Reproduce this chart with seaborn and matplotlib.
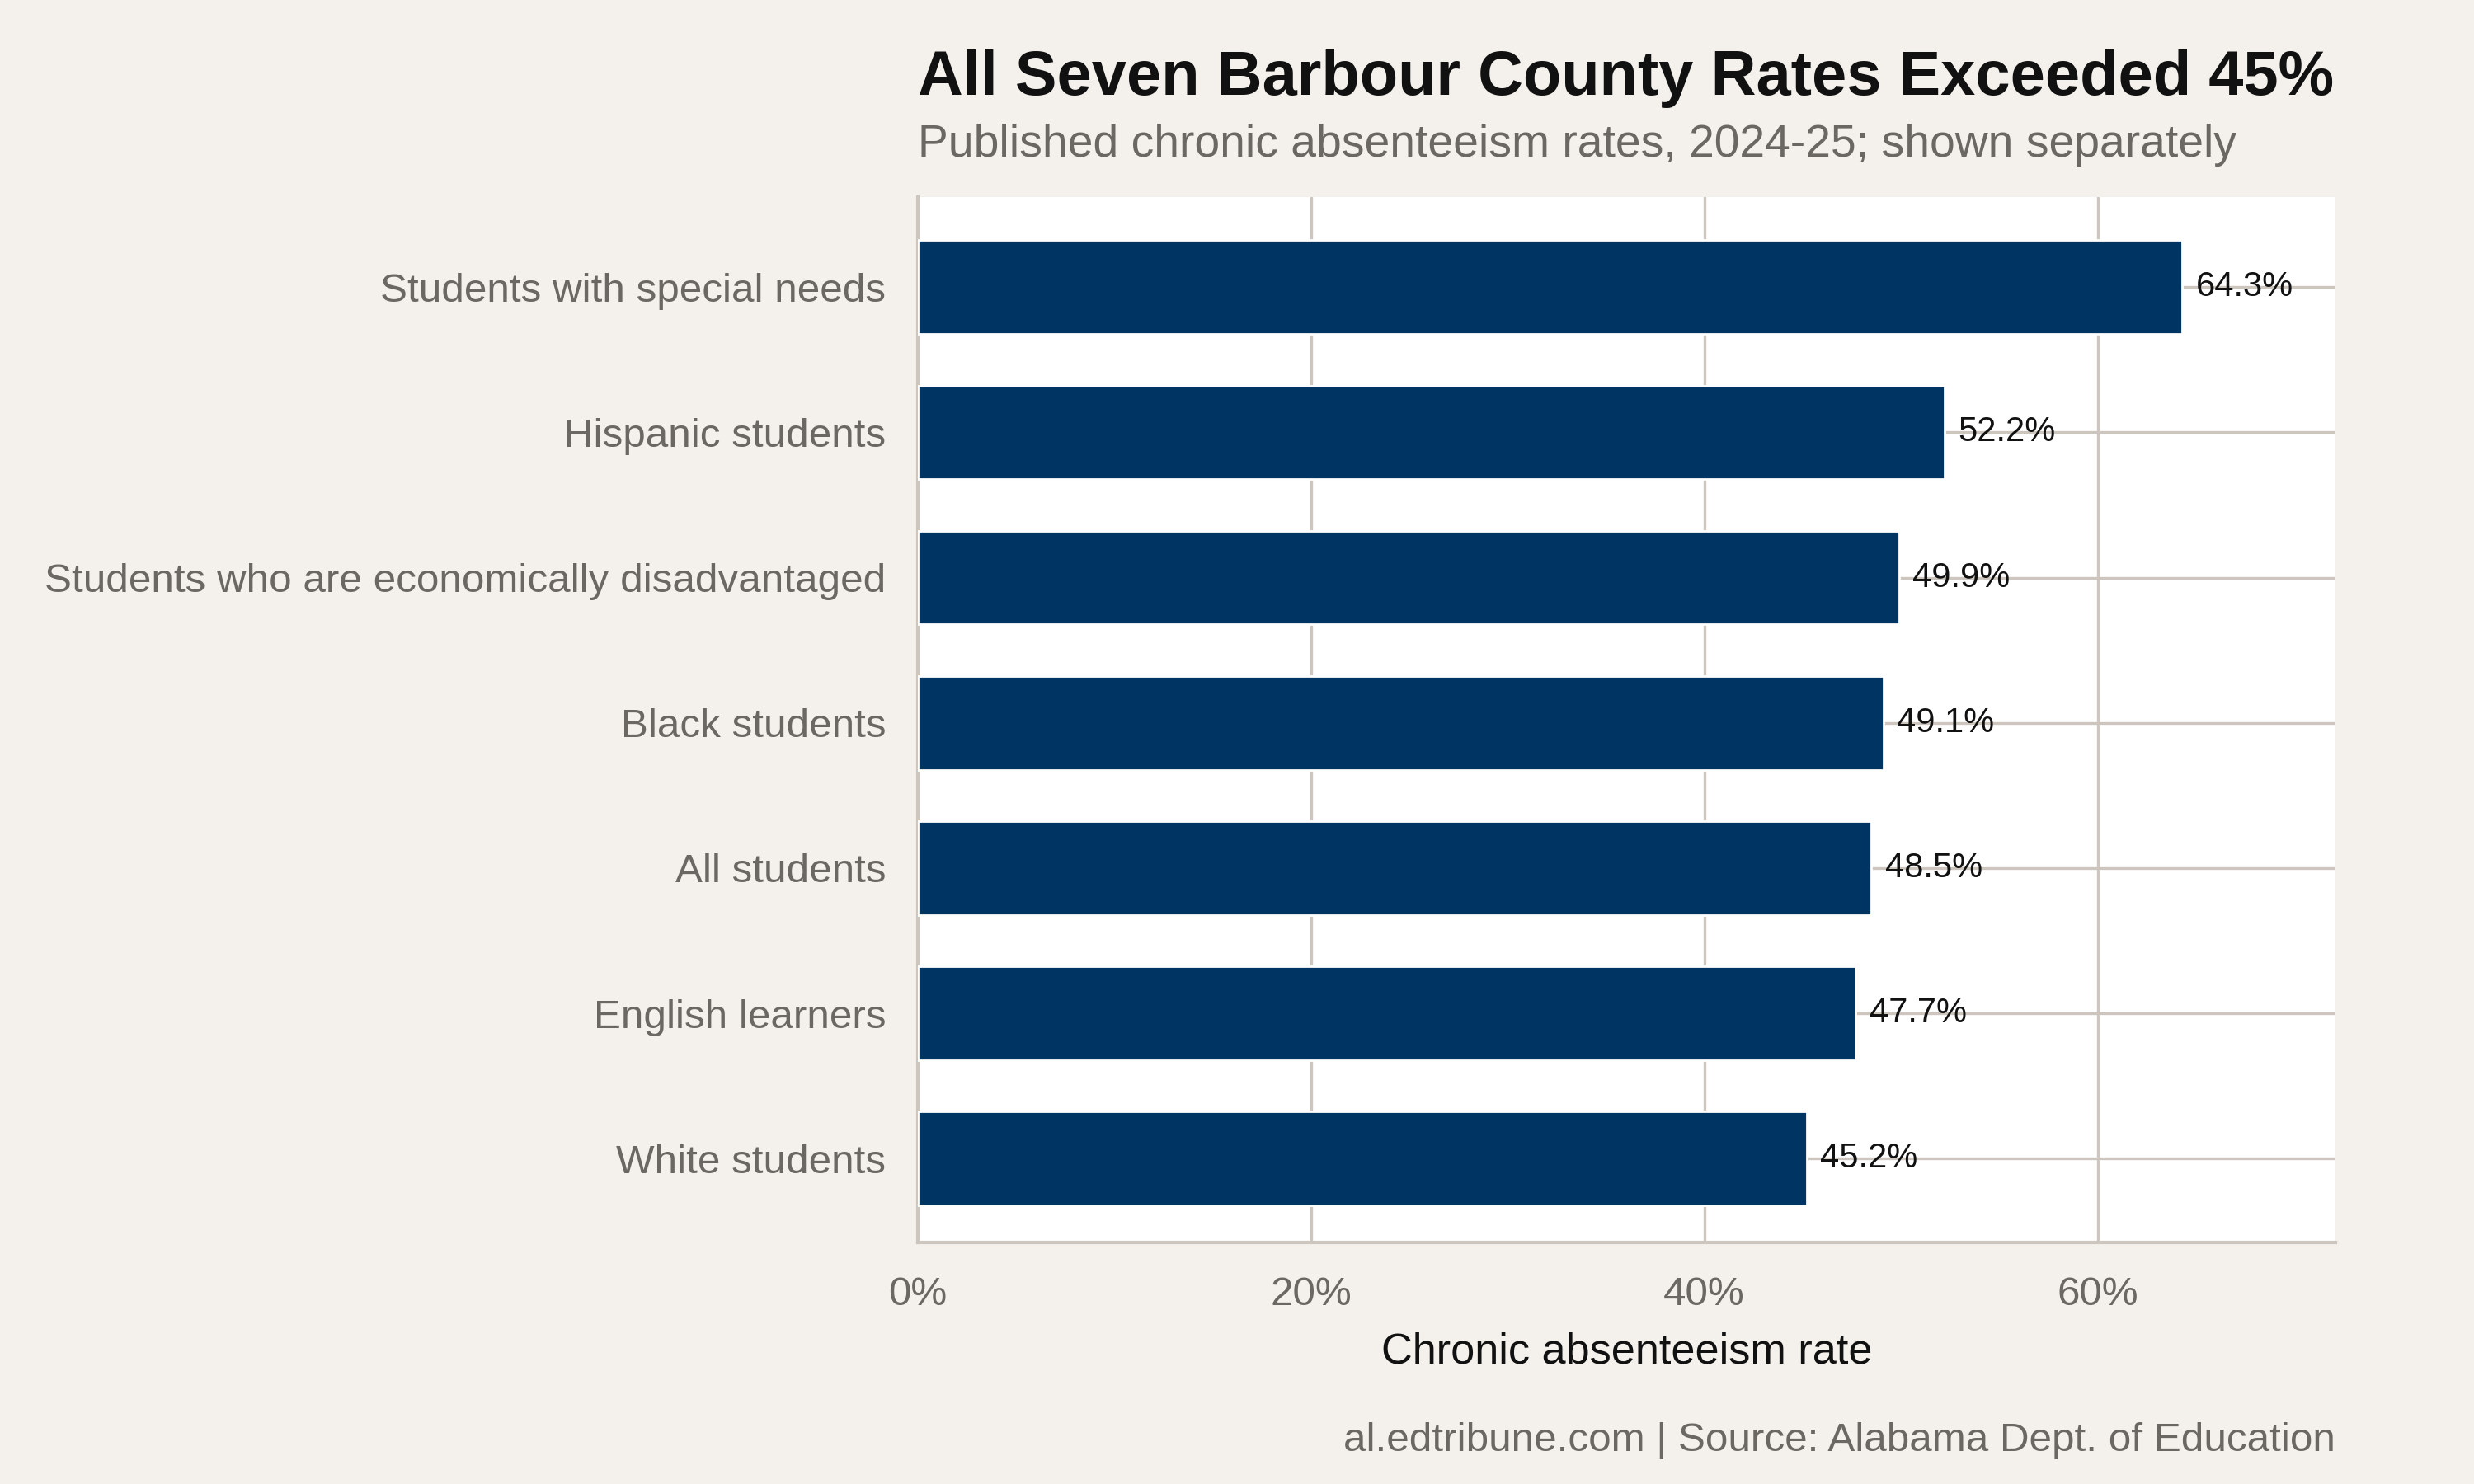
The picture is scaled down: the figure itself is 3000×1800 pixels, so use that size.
import pandas as pd
import seaborn as sns
import matplotlib.pyplot as plt
from matplotlib.ticker import FuncFormatter

# Chronic absenteeism rates, Barbour County, 2024-25
groups = [
    "Students with special needs",
    "Hispanic students",
    "Students who are economically disadvantaged",
    "Black students",
    "All students",
    "English learners",
    "White students",
]
rates = [64.3, 52.2, 49.9, 49.1, 48.5, 47.7, 45.2]
x_ticks = [0, 20, 40, 60]

df = pd.DataFrame({"group": groups, "rate": rates})

BG = "#F4F1EC"
NAVY = "#003463"
GRID = "#CCC6BE"
GRAY = "#6B6762"

sns.set_theme(style="white")
plt.rcParams["font.family"] = ["Liberation Sans", "DejaVu Sans"]

fig = plt.figure(figsize=(15, 9), dpi=200, facecolor=BG)
ax = fig.add_axes([0.371, 0.163, 0.573, 0.704])
ax.set_facecolor("white")

sns.barplot(data=df, x="rate", y="group", color=NAVY, width=0.645,
            saturation=1, ax=ax, zorder=3)

for i, v in enumerate(rates):
    ax.text(v + 0.7, i, f"{v:.1f}%", va="center", ha="left",
            fontsize=15, color="#111111", zorder=4)

ax.set_xlim(0, 72.1)
ax.set_ylim(6.575, -0.618)
ax.set_xticks(x_ticks)
ax.xaxis.set_major_formatter(FuncFormatter(lambda v, _: f"{v:.0f}%"))

ax.grid(True, axis="both", color=GRID, linewidth=1.2, zorder=0)
ax.set_axisbelow(True)
for side in ["top", "right"]:
    ax.spines[side].set_visible(False)
for side in ["left", "bottom"]:
    ax.spines[side].set_color(GRID)
    ax.spines[side].set_linewidth(1.5)

ax.tick_params(axis="both", colors=GRID, length=6, width=1.2,
               labelcolor=GRAY, labelsize=17.8)
ax.tick_params(axis="y", pad=8)
ax.tick_params(axis="x", pad=9)

ax.set_ylabel("")
ax.set_xlabel("Chronic absenteeism rate", fontsize=18.8, color="#111111",
              labelpad=8)

fig.text(0.371, 0.947, "All Seven Barbour County Rates Exceeded 45%",
         fontsize=27.3, fontweight="bold", color="#111111", va="center", ha="left")
fig.text(0.371, 0.902, "Published chronic absenteeism rates, 2024-25; shown separately",
         fontsize=19.9, color=GRAY, va="center", ha="left")
fig.text(0.944, 0.029, "al.edtribune.com | Source: Alabama Dept. of Education",
         fontsize=17.8, color=GRAY, va="center", ha="right")

fig.savefig("out.png", dpi=200, facecolor=BG)
